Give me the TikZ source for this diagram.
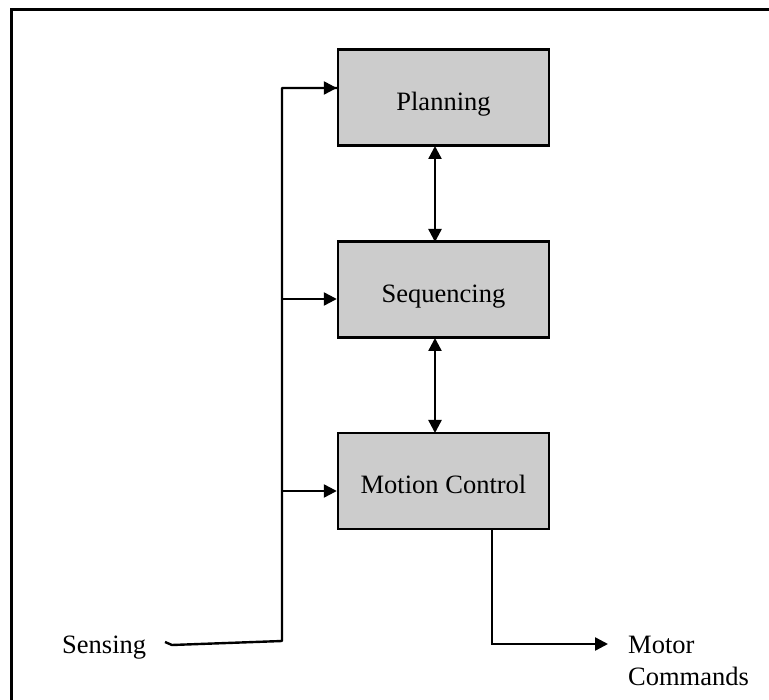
\documentclass[tikz,border=0pt]{standalone}
\usepackage{fontspec}
\setmainfont{Liberation Serif}
\usetikzlibrary{arrows.meta}
\definecolor{boxgray}{HTML}{CCCCCC}
\begin{document}
\begin{tikzpicture}[x=1pt,y=-1pt,
  layer/.style={draw=black,line width=2.4pt,fill=boxgray,minimum width=211pt,minimum height=96pt,inner sep=0pt},
  txt/.style={font=\fontsize{26.5}{32}\selectfont,inner sep=0pt,align=left},
  wire/.style={line width=2.4pt},
  tip/.tip={Triangle[length=13pt,width=13pt]},
  arr/.style={wire,-tip},
  biarr/.style={wire,tip-tip}]
  \useasboundingbox (0,0) rectangle (769,700);
  % outer frame, running past the page on the right and bottom
  \begin{scope}
    \clip (0,0) rectangle (769,700);
    \draw[line width=3pt] (11,10) rectangle (800,740);
  \end{scope}
  % the three layers
  \node[layer] (plan) at (443.5,97.5) {};
  \node[layer] (seq)  at (443.5,289.5) {};
  \node[layer] (mot)  at (443.5,481) {};
  \node[txt,anchor=base] (planT) at ([yshift=-13pt]plan.center) {Planning};
  \node[txt,anchor=base] (seqT)  at ([yshift=-13pt]seq.center) {Sequencing};
  \node[txt,anchor=base] (motT)  at ([yshift=-13pt]mot.center) {Motion Control};
  % links between layers
  \draw[biarr] (435,146) -- (435,242);
  \draw[biarr] (435,338) -- (435,433);
  % sensing bus
  \node[txt,anchor=base west] (sens) at (62,653) {Sensing};
  \coordinate (s0) at (165,642);
  \coordinate (s1) at (172,645);
  \coordinate (bus) at (282,641);
  \draw[wire,line join=round] (s0) -- (s1) -- (bus) -- (282,88) -- (plan.west |- 0,88);
  \draw[arr] (bus |- 0,88) -- (plan.west |- 0,88);
  \draw[arr] (bus |- 0,299) -- (seq.west |- 0,299);
  \draw[arr] (bus |- 0,491) -- (mot.west |- 0,491);
  % motor output
  \node[txt,anchor=base west] (motor) at (628,685) {Motor\\Commands};
  \coordinate (m0) at (492,529);
  \coordinate (m1) at (492,644);
  \draw[arr] (m0) -- (m1) -- (608,644);
\end{tikzpicture}
\end{document}
